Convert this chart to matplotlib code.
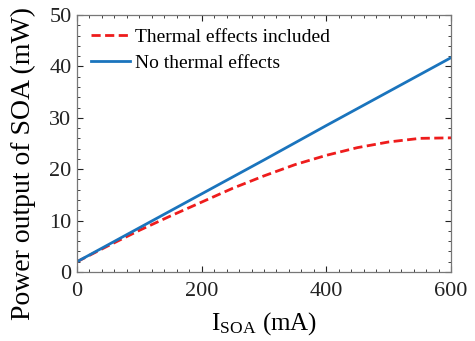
import numpy as np
import matplotlib
matplotlib.use('Agg')
import matplotlib.pyplot as plt
from matplotlib.ticker import MultipleLocator

# === Data ===
current_thermal = [0, 50, 100, 150, 200, 250, 300, 350, 400, 450, 500, 550, 600]
power_thermal = [2.0, 5.1, 8.1, 10.9, 13.6, 16.3, 18.7, 20.9, 22.7, 24.2, 25.3, 26.0, 26.1]

current_ideal = [0, 100, 200, 300, 400, 500, 600]
power_ideal = [2.0, 8.6, 15.2, 21.8, 28.5, 35.1, 41.7]

plt.rcParams['font.family'] = ['Liberation Serif', 'DejaVu Serif']
plt.rcParams['mathtext.fontset'] = 'stix'

fig = plt.figure(figsize=(4.75, 3.41), dpi=100)
ax = fig.add_axes([77/475, 1 - 272/341, 374/475, 257/341])

ax.plot(current_thermal, power_thermal, '--', color='#ee1c1c', lw=2.0,
        dashes=(3.3, 1.6), label='Thermal effects included')
ax.plot(current_ideal, power_ideal, '-', color='#1a74bd', lw=2.0,
        label='No thermal effects')

ax.set_xlim(0, 600)
ax.set_ylim(0, 50)
ax.xaxis.set_major_locator(MultipleLocator(200))
ax.xaxis.set_minor_locator(MultipleLocator(20))
ax.yaxis.set_major_locator(MultipleLocator(10))
ax.yaxis.set_minor_locator(MultipleLocator(2))
ax.tick_params(which='both', direction='in', top=True, right=True,
               labelsize=16, colors='#222222')
ax.tick_params(which='major', length=4, width=0.8, pad=4)
ax.tick_params(axis='x', which='major', pad=7)
ax.tick_params(which='minor', length=2, width=0.6)
for s in ax.spines.values():
    s.set_color('#777777')
    s.set_linewidth(0.9)

ax.set_xlabel(r'I$_{\mathregular{SOA}}$ (mA)', fontsize=18)
ax.set_ylabel('Power output of SOA (mW)', fontsize=20)
ax.xaxis.set_label_coords(0.5, -0.15)
ax.yaxis.set_label_coords(-0.11, 0.424)

ax.legend(loc='upper left', frameon=False, fontsize=14, handlelength=2.0,
          handletextpad=0.3, borderaxespad=0.3, labelspacing=0.42)

fig.savefig('out.png', dpi=100)
